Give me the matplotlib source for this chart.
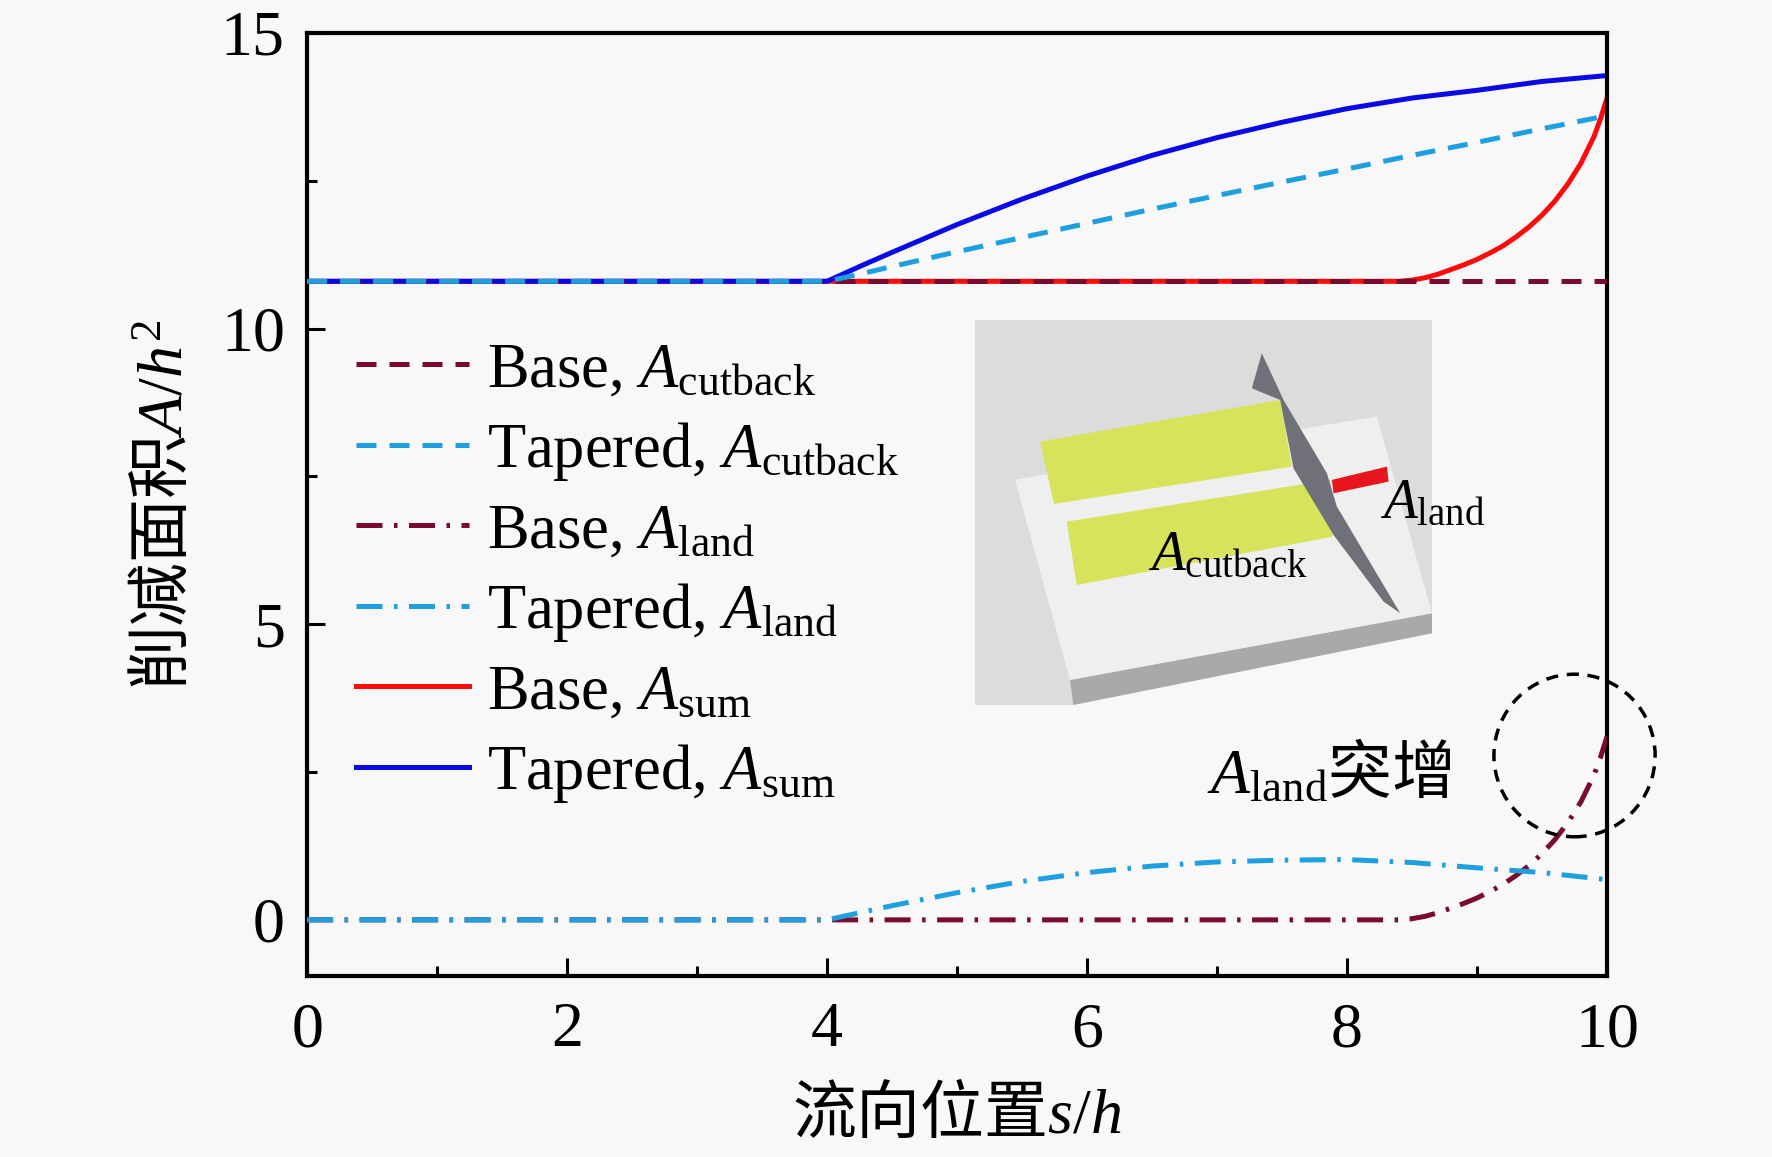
import numpy as np
import matplotlib
matplotlib.use('Agg')
import matplotlib.pyplot as plt
from matplotlib.patches import Ellipse, Polygon

plt.rcParams['font.family'] = ['Liberation Serif', 'Noto Sans CJK SC']
plt.rcParams['mathtext.fontset'] = 'custom'
plt.rcParams['mathtext.rm'] = 'Liberation Serif'
plt.rcParams['mathtext.it'] = 'Liberation Serif:italic'
plt.rcParams['mathtext.sf'] = 'Noto Sans CJK SC'

# ---- data ----
s_base = [0.0, 8.4, 8.5, 8.6, 8.7, 8.8, 8.9, 9.0, 9.1, 9.2, 9.3, 9.4, 9.5, 9.6, 9.7, 9.8, 9.9, 9.95, 10.0]
base_cutback = [10.8] * 19
base_land = [0.0, 0.0, 0.02, 0.06, 0.12, 0.20, 0.28, 0.37, 0.48, 0.60, 0.75, 0.92, 1.12,
             1.36, 1.65, 2.00, 2.45, 2.75, 3.10]
base_sum = [10.8, 10.8, 10.82, 10.86, 10.92, 11.00, 11.08, 11.17, 11.28, 11.40, 11.55, 11.72,
            11.92, 12.16, 12.45, 12.80, 13.25, 13.55, 13.90]

s_tap = [0.0, 4.0, 4.25, 4.5, 5.0, 5.5, 6.0, 6.5, 7.0, 7.5, 8.0, 8.5, 9.0, 9.5, 10.0]
tap_cutback = [10.8, 10.8, 10.92, 11.05, 11.30, 11.54, 11.78, 12.02, 12.25, 12.48, 12.70, 12.93,
               13.15, 13.38, 13.60]
tap_land = [0.0, 0.0, 0.12, 0.24, 0.46, 0.65, 0.80, 0.91, 0.98, 1.01, 1.02, 0.97, 0.88, 0.80, 0.68]
tap_sum = [10.8, 10.8, 11.05, 11.29, 11.76, 12.19, 12.58, 12.93, 13.23, 13.49, 13.72, 13.90,
           14.03, 14.18, 14.28]

labels = ['Base, $A_{\\mathrm{cutback}}$', 'Tapered, $A_{\\mathrm{cutback}}$',
          'Base, $A_{\\mathrm{land}}$', 'Tapered, $A_{\\mathrm{land}}$',
          'Base, $A_{\\mathrm{sum}}$', 'Tapered, $A_{\\mathrm{sum}}$']

c_dred = '#7a0b2c'
c_cyan = '#1e9fe0'
c_red = '#ff0a0a'
c_blue = '#0a0ae6'
bg = '#f8f8f8'

fig = plt.figure(figsize=(17.72, 11.57), dpi=100, facecolor=bg)
ax = fig.add_axes([0.1733, 0.1564, 0.7336, 0.8151], facecolor=bg)

lw = 3.6
dash = (4.0, 2.6)
dashdot = (5.2, 2.3, 0.7, 2.3)
l_bs, = ax.plot(s_base, base_sum, color=c_red, lw=lw, zorder=2)
l_ts, = ax.plot(s_tap, tap_sum, color=c_blue, lw=lw, zorder=2)
l_bc, = ax.plot(s_base, base_cutback, color=c_dred, lw=lw, dashes=dash, zorder=3)
l_tc, = ax.plot(s_tap, tap_cutback, color=c_cyan, lw=lw, dashes=dash, zorder=3)
l_bl, = ax.plot(s_base, base_land, color=c_dred, lw=lw, dashes=dashdot, zorder=3)
l_tl, = ax.plot(s_tap, tap_land, color=c_cyan, lw=lw, dashes=dashdot, zorder=3)

ax.set_xlim(0, 10)
ax.set_ylim(-0.95, 15)
ax.set_xticks([0, 2, 4, 6, 8, 10])
ax.set_xticks([1, 3, 5, 7, 9], minor=True)
ax.set_yticks([0, 5, 10, 15])
ax.set_yticks([2.5, 7.5, 12.5], minor=True)
ax.tick_params(which='both', direction='in', top=False, right=False, width=2.2)
ax.tick_params(which='major', length=13)
ax.tick_params(which='minor', length=7)
ax.tick_params(axis='x', which='major', labelsize=46, pad=19)
ax.tick_params(axis='y', which='major', labelsize=46, pad=16)
for sp in ax.spines.values():
    sp.set_linewidth(3)

ax.set_xlabel('$\\mathsf{流向位置}s/h$', fontsize=46, labelpad=16)
ax.set_ylabel('$\\mathsf{削减面积}A/h^2$', fontsize=46, labelpad=18)

ax.legend([l_bc, l_tc, l_bl, l_tl, l_bs, l_ts], labels, loc='upper left',
          bbox_to_anchor=(0.0377, 0.672), frameon=False, fontsize=45,
          handlelength=1.8, handletextpad=0.3, labelspacing=0.32,
          borderpad=0, borderaxespad=0)

# annotation
ax.add_patch(Ellipse((9.75, 2.78), 1.24, 2.75, fill=False, ec='black', lw=2.5,
                     ls=(0, (3.5, 2.5)), clip_on=False, zorder=5))
ax.text(6.92, 2.15, '$A_{\\mathrm{land}}\\mathsf{突增}$', fontsize=46, ha='left', va='baseline')

# inset sketch of the blade tip
ax_in = fig.add_axes([0.5502, 0.3907, 0.2579, 0.3328])
ax_in.set_xlim(75, 1445)
ax_in.set_ylim(1215, 60)
ax_in.axis('off')
ax_in.add_patch(Polygon([(75, 60), (1445, 60), (1445, 1000), (370, 1215), (75, 1215)],
                        closed=True, fc='#dcdcdc', ec='none'))
ax_in.add_patch(Polygon([(360, 1140), (1445, 940), (1445, 1000), (370, 1215)],
                        closed=True, fc='#a9a9a9', ec='none'))
ax_in.add_patch(Polygon([(195, 540), (1000, 395), (1280, 350), (1445, 940), (360, 1140)],
                        closed=True, fc='#efefef', ec='none'))
ax_in.add_patch(Polygon([(270, 425), (990, 300), (1025, 500), (312, 612)],
                        closed=True, fc='#d7e35b', ec='none'))
ax_in.add_patch(Polygon([(350, 665), (1140, 540), (1148, 710), (380, 855)],
                        closed=True, fc='#d7e35b', ec='none'))
ax_in.add_patch(Polygon([(935, 160), (1000, 300), (1130, 520), (1160, 620), (1350, 940),
                         (1300, 905), (1150, 705), (1030, 505), (990, 300), (905, 265)],
                        closed=True, fc='#707078', ec='none'))
ax_in.add_patch(Polygon([(1145, 540), (1310, 500), (1315, 545), (1150, 580)],
                        closed=True, fc='#e8141e', ec='none'))
ax_in.text(1290, 655, '$A_{\\mathrm{land}}$', fontsize=40, ha='left', va='baseline')
ax_in.text(595, 810, '$A_{\\mathrm{cutback}}$', fontsize=40, ha='left', va='baseline')

fig.savefig('out.png', dpi=100, facecolor=bg)
